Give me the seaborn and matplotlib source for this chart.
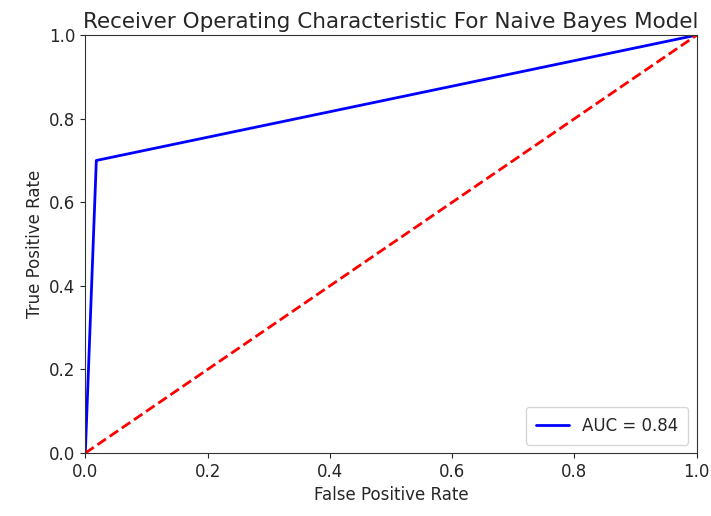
import matplotlib
matplotlib.use("Agg")
import matplotlib.pyplot as plt
import seaborn as sns
import pandas as pd

fpr = [0.0, 0.018, 1.0]
tpr = [0.0, 0.70, 1.0]
diag_x = [0.0, 1.0]
diag_y = [0.0, 1.0]
auc_label = "AUC = 0.84"
title = "Receiver Operating Characteristic For Naive Bayes Model"

sns.set_style("ticks")
plt.rcParams['font.family'] = ['DejaVu Sans']

fig = plt.figure(figsize=(7.11, 5.16), dpi=100)
ax = fig.add_axes([0.12, 0.122, 0.86, 0.81])

roc = pd.DataFrame({"fpr": fpr, "tpr": tpr})
sns.lineplot(data=roc, x="fpr", y="tpr", color="blue", linewidth=2, label=auc_label,
             ax=ax, sort=False, estimator=None)
sns.lineplot(x=diag_x, y=diag_y, color="red", linestyle="--", linewidth=2, ax=ax)

ax.set_xlim(0, 1)
ax.set_ylim(0, 1)
ax.set_title(title, fontsize=15.5, pad=5)
ax.set_xlabel("False Positive Rate", fontsize=12)
ax.set_ylabel("True Positive Rate", fontsize=12)
ax.tick_params(labelsize=12)
ax.legend(loc="lower right", fontsize=12, borderpad=0.6)
for s in ax.spines.values():
    s.set_color("#333333")

fig.savefig("out.png", dpi=100)
